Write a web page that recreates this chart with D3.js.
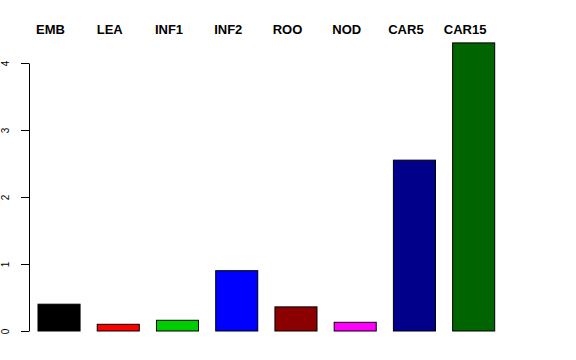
<!DOCTYPE html>
<svg width="576" height="360"></svg>
<script src="https://d3js.org/d3.v7.min.js"></script>
<style>
  body {
    margin: 0;
    background: #fff;
  }
  .bar {
    stroke: #000;
    stroke-width: 1px;
  }
  .top-label {
    font-family: "Liberation Sans", Arial, sans-serif;
    font-weight: bold;
    font-size: 13px;
  }
  .y.axis text {
    font-family: "Liberation Sans", Arial, sans-serif;
    font-size: 10px;
  }
</style>
<script>
// tissue names and their values
var categories = ["EMB", "LEA", "INF1", "INF2", "ROO", "NOD", "CAR5", "CAR15"];
var values = [0.40, 0.10, 0.16, 0.90, 0.36, 0.13, 2.55, 4.30];
var colours = ["#000000", "#ff0000", "#00cd00", "#0000ff", "#8b0000", "#ff00ff", "#00008b", "#006400"];
var yTicks = [0, 1, 2, 3, 4];

var svg = d3.select("svg");

var x = d3.scaleBand()
    .domain(categories)
    .range([38, 494.7])
    .paddingInner(0.29)
    .paddingOuter(0);

var y = d3.scaleLinear()
    .domain([0, 4])
    .range([331, 63]);

svg.append("g")
    .attr("class", "bars")
  .selectAll("rect")
  .data(values)
  .enter().append("rect")
    .attr("class", "bar")
    .attr("x", function(d, i) { return x(categories[i]); })
    .attr("width", x.bandwidth())
    .attr("y", function(d) { return y(d); })
    .attr("height", function(d) { return y(0) - y(d); })
    .attr("fill", function(d, i) { return colours[i]; });

// labels across the top, a little left of the bar centres
svg.append("g")
  .selectAll("text")
  .data(categories)
  .enter().append("text")
    .attr("class", "top-label")
    .attr("x", function(d) { return x(d) + x.bandwidth() / 2 - 8.5; })
    .attr("y", 33.5)
    .attr("text-anchor", "middle")
    .text(function(d) { return d; });

var yAxis = svg.append("g")
    .attr("class", "y axis")
    .attr("transform", "translate(29,0)")
    .call(d3.axisLeft(y).tickValues(yTicks).tickSize(8).tickSizeOuter(0).tickFormat(d3.format("d")));

yAxis.select(".domain").attr("stroke", "#000");
yAxis.selectAll(".tick line").attr("stroke", "#000");
yAxis.selectAll(".tick text")
    .attr("fill", "#000")
    .attr("x", null)
    .attr("dy", null)
    .attr("text-anchor", "middle")
    .attr("transform", "translate(-20,0) rotate(-90)");
</script>
